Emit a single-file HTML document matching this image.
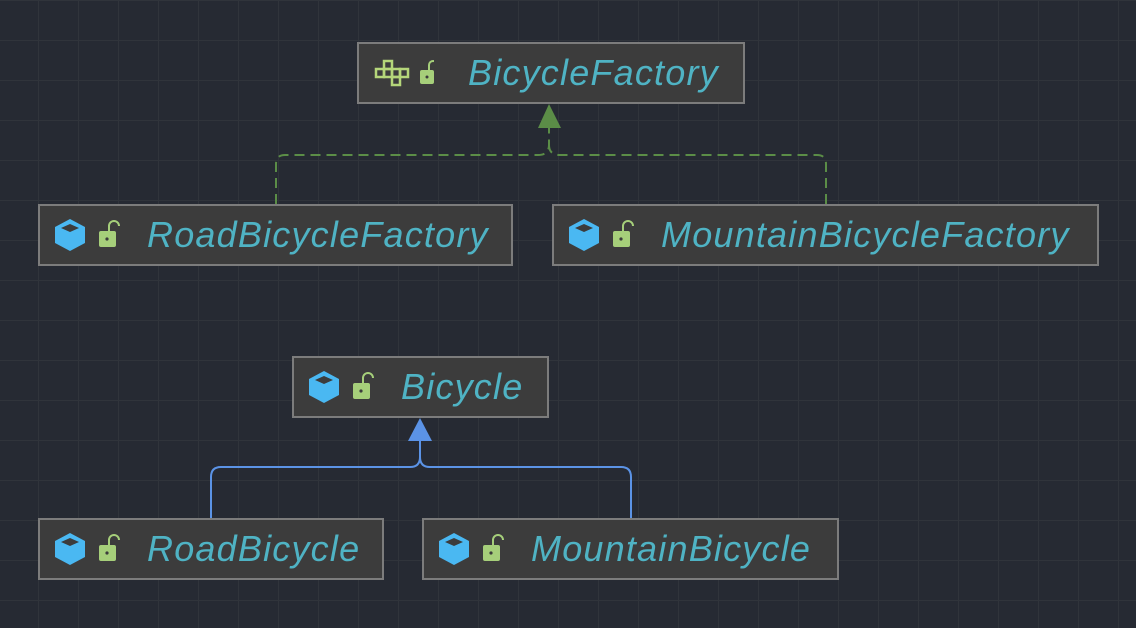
<!DOCTYPE html>
<html><head><style>
body{margin:0;width:1136px;height:628px;overflow:hidden;background:#262a33;
background-image:linear-gradient(#30343b 1px,transparent 1px),linear-gradient(90deg,#30343b 1px,transparent 1px);
background-size:40px 40px;background-position:38px 0px;position:relative;font-family:"Liberation Sans",sans-serif}
.b{position:absolute;box-sizing:border-box;background:#3c3c3c;border:2px solid #7c7c7c;height:62px;display:flex;align-items:center}
.t{font-style:italic;font-size:36px;color:#4fb3c4;letter-spacing:1.2px}
.ic{margin-left:15px;margin-right:12px}
svg.l{position:absolute;left:0;top:0}
</style></head><body>
<svg class="l" width="1136" height="628">
<g fill="none" stroke="#5b8d47" stroke-width="2" stroke-dasharray="10 6">
<path d="M276 204 V164 Q276 155 285 155 H538 Q549 155 549 145 V128"/>
<path d="M826 204 V164 Q826 155 817 155 H560 Q549 155 549 145"/>
</g>
<polygon points="549,104 538,128 561,128" fill="#5b8d47"/>
<g fill="none" stroke="#5b93e6" stroke-width="2">
<path d="M211 518 V477 Q211 467 221 467 H410 Q420 467 420 457 V441"/>
<path d="M631 518 V477 Q631 467 621 467 H430 Q420 467 420 457"/>
</g>
<polygon points="420,418 408,441 432,441" fill="#5b93e6"/>
</svg>
<div class="b" style="left:357px;top:42px;width:388px">
<svg class="ic" width="60" height="30" viewBox="0 0 60 30"><g fill="none" stroke="#b5d67a" stroke-width="2.5"><rect x="10" y="3" width="8" height="8"/><rect x="2" y="11" width="8" height="8"/><rect x="10" y="11" width="8" height="8"/><rect x="18" y="11" width="8" height="8"/><rect x="26" y="11" width="8" height="8"/><rect x="18" y="19" width="8" height="8"/></g>
<rect x="46" y="12" width="14" height="14" rx="2" fill="#a6cf7a"/><path d="M55 12 V7 a4 4 0 0 1 8 0" stroke="#a6cf7a" stroke-width="2" fill="none"/><circle cx="53" cy="19" r="1.5" fill="#3c3c3c"/></svg>
<span class="t" style="margin-left:22px">BicycleFactory</span></div>

<div class="b" style="left:38px;top:204px;width:475px"><svg class="ic" width="70" height="34" viewBox="0 0 70 34"><polygon points="15,1 30,9 30,25 15,33 0,25 0,9" fill="#4ab8f2"/><polygon points="15,6 24,10 15,14 6,10" fill="#3c3c3c"/><rect x="44" y="13" width="17" height="16" rx="2" fill="#a6cf7a"/><path d="M54 13 V8 a5 5 0 0 1 10 0" stroke="#a6cf7a" stroke-width="2" fill="none"/><circle cx="52" cy="21" r="1.6" fill="#3c3c3c"/></svg><span class="t" style="margin-left:10px">RoadBicycleFactory</span></div>

<div class="b" style="left:552px;top:204px;width:547px"><svg class="ic" width="70" height="34" viewBox="0 0 70 34"><polygon points="15,1 30,9 30,25 15,33 0,25 0,9" fill="#4ab8f2"/><polygon points="15,6 24,10 15,14 6,10" fill="#3c3c3c"/><rect x="44" y="13" width="17" height="16" rx="2" fill="#a6cf7a"/><path d="M54 13 V8 a5 5 0 0 1 10 0" stroke="#a6cf7a" stroke-width="2" fill="none"/><circle cx="52" cy="21" r="1.6" fill="#3c3c3c"/></svg><span class="t" style="margin-left:10px">MountainBicycleFactory</span></div>

<div class="b" style="left:292px;top:356px;width:257px"><svg class="ic" width="70" height="34" viewBox="0 0 70 34"><polygon points="15,1 30,9 30,25 15,33 0,25 0,9" fill="#4ab8f2"/><polygon points="15,6 24,10 15,14 6,10" fill="#3c3c3c"/><rect x="44" y="13" width="17" height="16" rx="2" fill="#a6cf7a"/><path d="M54 13 V8 a5 5 0 0 1 10 0" stroke="#a6cf7a" stroke-width="2" fill="none"/><circle cx="52" cy="21" r="1.6" fill="#3c3c3c"/></svg><span class="t" style="margin-left:10px">Bicycle</span></div>

<div class="b" style="left:38px;top:518px;width:346px"><svg class="ic" width="70" height="34" viewBox="0 0 70 34"><polygon points="15,1 30,9 30,25 15,33 0,25 0,9" fill="#4ab8f2"/><polygon points="15,6 24,10 15,14 6,10" fill="#3c3c3c"/><rect x="44" y="13" width="17" height="16" rx="2" fill="#a6cf7a"/><path d="M54 13 V8 a5 5 0 0 1 10 0" stroke="#a6cf7a" stroke-width="2" fill="none"/><circle cx="52" cy="21" r="1.6" fill="#3c3c3c"/></svg><span class="t" style="margin-left:10px">RoadBicycle</span></div>

<div class="b" style="left:422px;top:518px;width:417px"><svg class="ic" width="70" height="34" viewBox="0 0 70 34"><polygon points="15,1 30,9 30,25 15,33 0,25 0,9" fill="#4ab8f2"/><polygon points="15,6 24,10 15,14 6,10" fill="#3c3c3c"/><rect x="44" y="13" width="17" height="16" rx="2" fill="#a6cf7a"/><path d="M54 13 V8 a5 5 0 0 1 10 0" stroke="#a6cf7a" stroke-width="2" fill="none"/><circle cx="52" cy="21" r="1.6" fill="#3c3c3c"/></svg><span class="t" style="margin-left:10px">MountainBicycle</span></div>
</body></html>
